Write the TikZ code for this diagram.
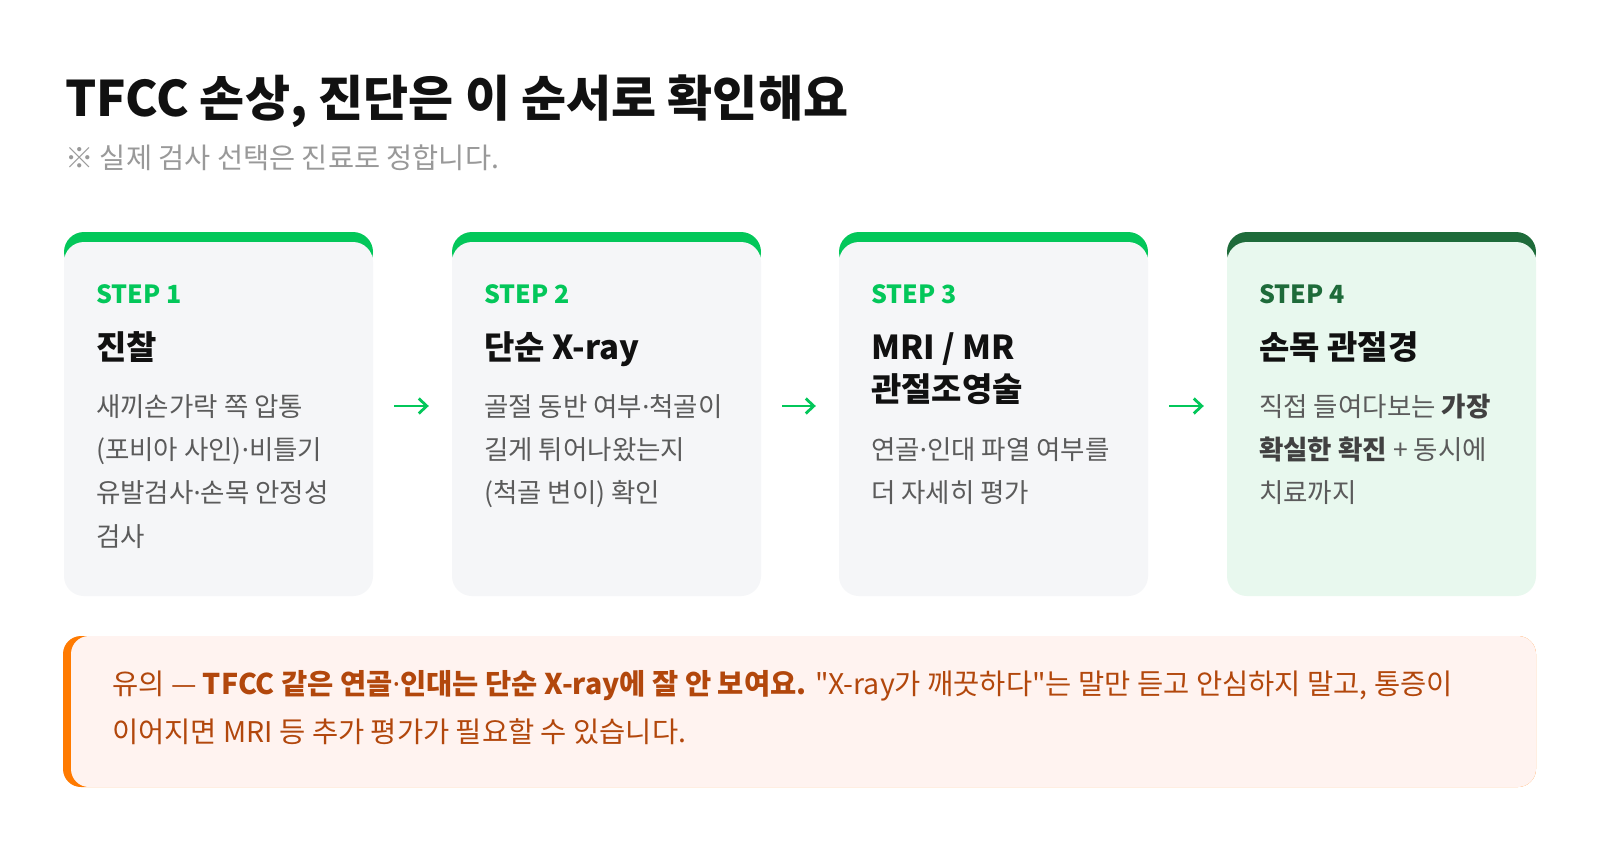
\documentclass[tikz,border=0pt]{standalone}
\usepackage{fontspec}
\setmainfont{Noto Sans CJK KR}[Ligatures=TeXOff]
\newfontfamily\notosans{Noto Sans}
\usetikzlibrary{arrows.meta}
\definecolor{vert}{HTML}{03C75A}
\definecolor{vertfonce}{HTML}{1E6B3A}
\definecolor{fond}{HTML}{F5F6F8}
\definecolor{fondvert}{HTML}{E8F8EE}
\definecolor{noir}{HTML}{111111}
\definecolor{gris}{HTML}{5B5B5B}
\definecolor{grisclair}{HTML}{999999}
\definecolor{orangevif}{HTML}{FF7A00}
\definecolor{rose}{HTML}{FFF3F0}
\definecolor{brun}{HTML}{B2470C}
\newcommand{\md}{{\notosans ·}}
\newcommand{\carte}[4]{\fill[#2, rounded corners=20] (#1,232) rectangle ++(309,40);
	\node[carte, fill=#3] (#4) at (#1+154.5,419) {}}

\begin{document}
\begin{tikzpicture}[x=1pt, y=-1pt,
	carte/.style={minimum width=309, minimum height=354, rounded corners=20, inner sep=0},
	grandtitre/.style={anchor=base west, inner sep=0, text=noir, font=\bfseries\fontsize{49}{56}\selectfont},
	soustitre/.style={anchor=base west, inner sep=0, text=grisclair, font=\fontsize{28.4}{30}\selectfont},
	numero/.style={anchor=base west, inner sep=0, text=vert, font=\bfseries\fontsize{25}{30}\selectfont},
	titre/.style={anchor=base west, inner sep=0, align=left, text=noir, font=\bfseries\fontsize{33}{42}\selectfont},
	texte/.style={anchor=base west, inner sep=0, align=left, text=gris, font=\fontsize{26.5}{43.3}\selectfont},
	fleche/.style={vert, line width=2.8, -{Straight Barb[length=8,width=15]}, shorten <=21, shorten >=23},
	rappel/.style={anchor=base west, inner sep=0, align=left, text=brun, font=\fontsize{28.5}{48}\selectfont}]
\useasboundingbox (0,0) rectangle (1600,848);
\fill[white] (0,0) rectangle (1600,848);
%Heading
	\node[grandtitre] (entete) at (65,117) {TFCC 손상, 진단은 이 순서로 확인해요};
	\node[soustitre] (note) at (65,168) {※ 실제 검사 선택은 진료로 정합니다.};
%Cards
	\carte{64}{vert}{fond}{s1};
	\carte{452}{vert}{fond}{s2};
	\carte{839}{vert}{fond}{s3};
	\carte{1227}{vertfonce}{fondvert}{s4};
%First card (multi-line nodes sit on their last baseline)
	\node[numero] (num1) at (96,303) {STEP 1};
	\node[titre] (tit1) at (96,359) {진찰};
	\node[texte] (txt1) at (96,546) {새끼손가락 쪽 압통\\(포비아 사인)\md 비틀기\\유발검사\md 손목 안정성\\검사};
%Second card
	\node[numero] (num2) at (484,303) {STEP 2};
	\node[titre] (tit2) at (484,359) {단순 X-ray};
	\node[texte] (txt2) at (484,502.6) {골절 동반 여부\md 척골이\\길게 튀어나왔는지\\(척골 변이) 확인};
%Third card
	\node[numero] (num3) at (871,303) {STEP 3};
	\node[titre] (tit3) at (871,401) {MRI / MR\\관절조영술};
	\node[texte] (txt3) at (871,502.3) {연골\md 인대 파열 여부를\\더 자세히 평가};
%Fourth card
	\node[numero, text=vertfonce] (num4) at (1259,303) {STEP 4};
	\node[titre] (tit4) at (1259,359) {손목 관절경};
	\node[texte] (txt4) at (1259,502.6) {직접 들여다보는 \textcolor{noir!80}{\bfseries 가장}\\\textcolor{noir!80}{\bfseries 확실한 확진} + 동시에\\치료까지};
%Arrows
	\draw[fleche] ([yshift=13]s1.east) -- ([yshift=13]s2.west);
	\draw[fleche] ([yshift=13]s2.east) -- ([yshift=13]s3.west);
	\draw[fleche] ([yshift=13]s3.east) -- ([yshift=13]s4.west);
%Warning
	\fill[orangevif, rounded corners=18] (63,636) rectangle (1536,787);
	\node[minimum width=1465, minimum height=151, rounded corners=18, fill=rose, inner sep=0] (boite) at (803.5,711.5) {};
	\node[rappel] (msg) at (112,742) {유의 — \textbf{TFCC 같은 연골\md 인대는 단순 X-ray에 잘 안 보여요.} "X-ray가 깨끗하다"는 말만 듣고 안심하지 말고, 통증이\\이어지면 MRI 등 추가 평가가 필요할 수 있습니다.};
\end{tikzpicture}
\end{document}
